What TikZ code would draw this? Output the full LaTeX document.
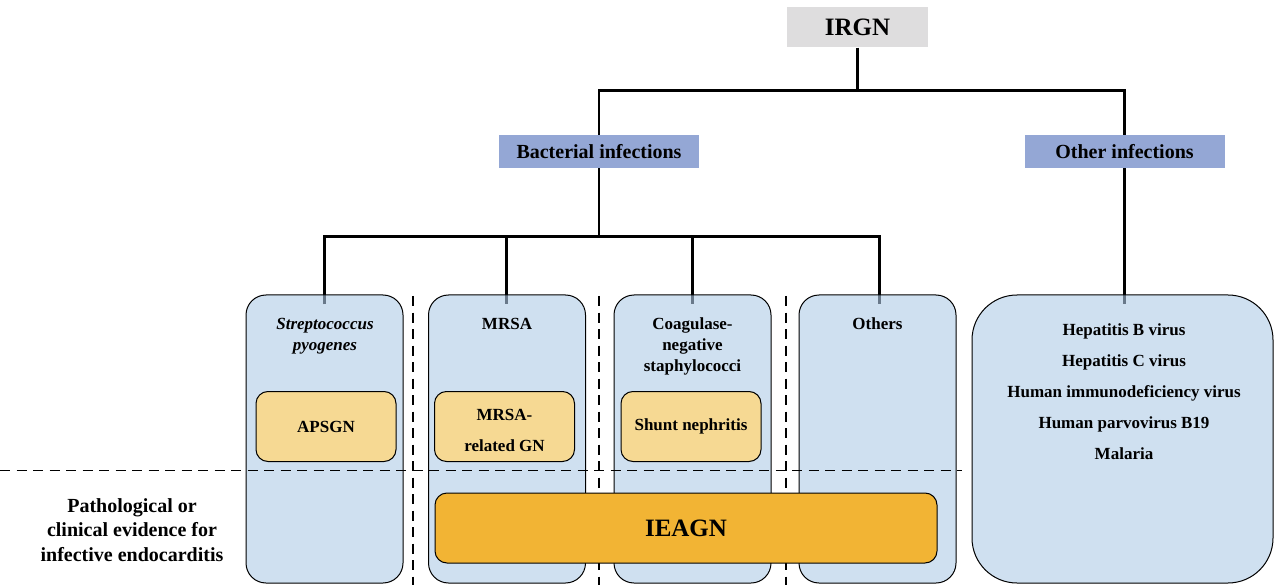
\documentclass[tikz,border=0pt]{standalone}
\usepackage{fontspec}
\setmainfont{Liberation Serif}
\usetikzlibrary{backgrounds}
\definecolor{rootgray}{RGB}{222,221,222}
\definecolor{groupblue}{RGB}{148,167,213}
\definecolor{cellblue}{RGB}{175,203,230}
\definecolor{gnyellow}{RGB}{246,217,147}
\definecolor{ieorange}{RGB}{242,180,52}
\newcommand{\BigBold}{\bfseries\fontsize{25}{28}\selectfont}
\newcommand{\MidBold}{\bfseries\fontsize{20}{24.5}\selectfont}

\begin{document}
\begin{tikzpicture}[x=1pt,y=-1pt,
  tree/.style={line width=2.8pt, shorten >=-10pt},
  sep/.style={line width=1.9pt, dash pattern=on 10pt off 6.5pt},
  head/.style={fill=groupblue, minimum width=200pt, minimum height=33pt, inner sep=0pt, font=\MidBold},
  cell/.style={draw, line width=1pt, fill=cellblue, fill opacity=0.6, text opacity=1, rounded corners=20pt, minimum width=157pt, minimum height=288pt},
  gnbox/.style={draw, line width=1pt, fill=gnyellow, rounded corners=12pt, minimum width=140pt, minimum height=70pt, align=center, font=\bfseries\fontsize{17}{31}\selectfont},
  title/.style={anchor=north, inner sep=0pt, align=center, font=\bfseries\fontsize{17}{21}\selectfont}]
  \useasboundingbox (0,0) rectangle (1274,585);
  % top of the tree
  \node[fill=rootgray, minimum width=141pt, minimum height=40pt, inner sep=0pt, font=\BigBold] (irgn) at (857.5,27.5) {IRGN};
  \node[head] (bact)  at (599,151.5)    {Bacterial infections};
  \node[head] (other) at (1124.5,151.5) {Other infections};
  % organism cells
  \node[cell] (strep)  at (324.5,439) {};
  \node[cell] (mrsa)   at (507,439)   {};
  \node[cell] (cons)   at (692.5,439) {};
  \node[cell] (others) at (877.5,439) {};
  \node[cell, minimum width=301pt, rounded corners=45pt] (viral) at (1122.5,439) {};
  % connectors (behind the cells)
  \begin{pgfonlayer}{background}
    \draw[tree, shorten >=0pt] (irgn.south) -- ++(0,43) coordinate (split);
    \draw[tree, shorten >=0pt] (bact.north) |- (split) -| (other.north);
    \draw[tree, shorten >=0pt] (bact.south) -- ++(0,68) coordinate (bsplit);
    \draw[tree, shorten <=-10pt] (strep.north) |- (bsplit) -| ([xshift=2pt]others.north);
    \draw[tree] (bsplit) -| ([xshift=-0.5pt]mrsa.north);
    \draw[tree] (bsplit) -| (cons.north);
    \draw[tree] (other.south) -- (other.south |- viral.north);
  \end{pgfonlayer}
  % cell titles
  \node[title] (strepT)  at (325,318) {\itshape Streptococcus\\\itshape pyogenes};
  \node[title] (mrsaT)   at (507,318) {MRSA};
  \node[title] (consT)   at (692.5,318) {Coagulase-\\negative\\staphylococci};
  \node[title] (othersT) at (877.5,318) {Others};
  \node[title, font=\bfseries\fontsize{17}{31}\selectfont] (viralT) at (1124,324) {Hepatitis B virus\\Hepatitis C virus\\Human immunodeficiency virus\\Human parvovirus B19\\Malaria};
  % glomerulonephritis types
  \node[gnbox] (apsgn)  at (326,426.5) {APSGN};
  \node[gnbox] (mrsagn) at (504.5,426.5) {};
  \node[title, font=\bfseries\fontsize{17}{31}\selectfont] (mrsagnT) at (504.5,409) {MRSA-\\related GN};
  \node[gnbox] (shunt)  at (691,426.5) {Shunt nephritis};
  % separators
  \foreach \x in {413,599,786}
    \draw[sep] (\x,296) -- (\x,585);
  \draw[sep] (0,470.5) -- (962,470.5);
  % endocarditis
  \node[draw, line width=1pt, fill=ieorange, rounded corners=12pt, minimum width=502pt, minimum height=70pt, font=\BigBold] (ieagn) at (686,528) {IEAGN};
  \node[title, font=\MidBold] (evid) at (132,498) {Pathological or\\clinical evidence for\\infective endocarditis};
\end{tikzpicture}
\end{document}
